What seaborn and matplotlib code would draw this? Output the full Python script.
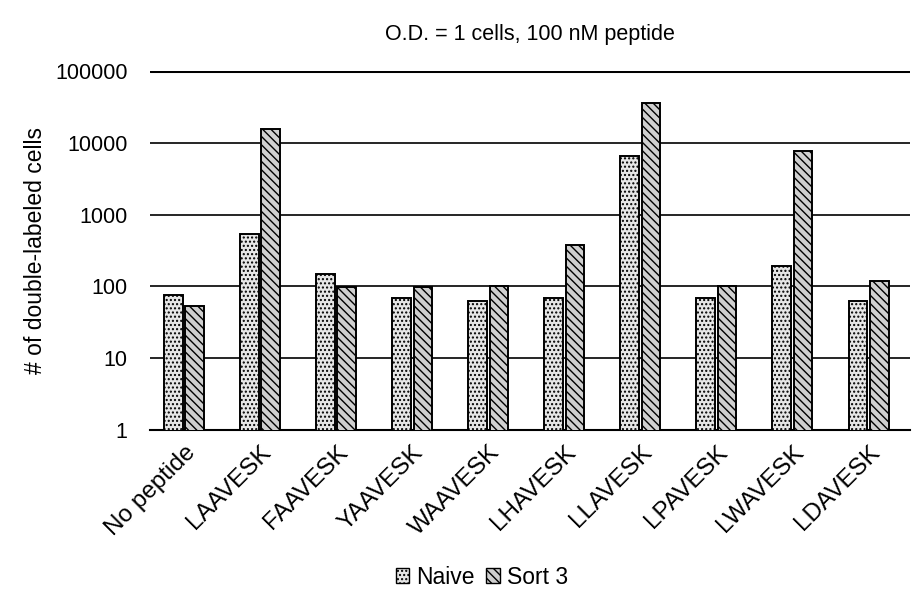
import matplotlib
matplotlib.use("Agg")
import matplotlib.pyplot as plt
import seaborn as sns
import pandas as pd
from matplotlib.patches import Patch

categories = ["No peptide", "LAAVESK", "FAAVESK", "YAAVESK", "WAAVESK",
              "LHAVESK", "LLAVESK", "LPAVESK", "LWAVESK", "LDAVESK"]
naive = [75, 540, 150, 70, 62, 68, 6600, 68, 195, 62]
sort3 = [53, 15500, 98, 98, 102, 380, 36000, 103, 7600, 118]
series = ["Naive", "Sort 3"]
yticks = [1, 10, 100, 1000, 10000, 100000]
ytick_labels = ["1", "10", "100", "1000", "10000", "100000"]

df = pd.DataFrame({
    "category": categories * 2,
    "value": naive + sort3,
    "series": [series[0]] * len(categories) + [series[1]] * len(categories),
})

sns.set_theme(style="white")
plt.rcParams["font.family"] = ["Liberation Sans", "DejaVu Sans"]
plt.rcParams["hatch.linewidth"] = 1.0
plt.rcParams["text.color"] = "black"
plt.rcParams["axes.labelcolor"] = "black"
plt.rcParams["xtick.color"] = "black"
plt.rcParams["ytick.color"] = "black"

fig = plt.figure(figsize=(9.14, 6.0), dpi=100)
ax = fig.add_axes([0.164, 0.283, 0.832, 0.599])

sns.barplot(data=df, x="category", y="value", hue="series", order=categories,
            hue_order=series, palette=["#e6e6e6", "#cfcfcf"], width=0.56,
            gap=0.12, edgecolor="black", linewidth=1.4, legend=False, ax=ax)
ax.set_yscale("log")

hatches = ["....", "\\\\\\\\"]
for container, h in zip(ax.containers, hatches):
    for bar in container:
        bar.set_hatch(h)
        bar.set_zorder(3)

ax.set_ylim(1, 100000)
ax.set_yticks(yticks)
ax.set_yticklabels(ytick_labels, fontsize=15.5)
ax.minorticks_off()
ax.yaxis.grid(True, color="black", linewidth=1.2)
ax.set_axisbelow(True)
for s in ["left", "right", "top"]:
    ax.spines[s].set_visible(False)
ax.spines["bottom"].set_color("black")
ax.spines["bottom"].set_linewidth(1.5)
ax.axhline(100000, color="black", linewidth=2.2, zorder=1)
ax.tick_params(axis="y", length=0, pad=16)
ax.tick_params(axis="x", length=0, pad=8)
ax.set_xlim(-0.45, 9.55)
ax.set_xticks(range(len(categories)))
ax.set_xticklabels(categories, rotation=45, ha="right", rotation_mode="anchor",
                   fontsize=17.5)
ax.set_xlabel("")
ax.set_ylabel("# of double-labeled cells", fontsize=16.5, labelpad=6)
ax.set_title("O.D. = 1 cells, 100 nM peptide", fontsize=15.5, pad=22)

handles = [Patch(facecolor="#e6e6e6", edgecolor="black", hatch=hatches[0]),
           Patch(facecolor="#cfcfcf", edgecolor="black", hatch=hatches[1])]
fig.legend(handles, series, loc="center", bbox_to_anchor=(0.527, 0.038),
           ncol=2, frameon=False, fontsize=16.5, handlelength=0.6,
           handleheight=0.6, handletextpad=0.3, columnspacing=0.5)

fig.savefig("out.png", dpi=100)
